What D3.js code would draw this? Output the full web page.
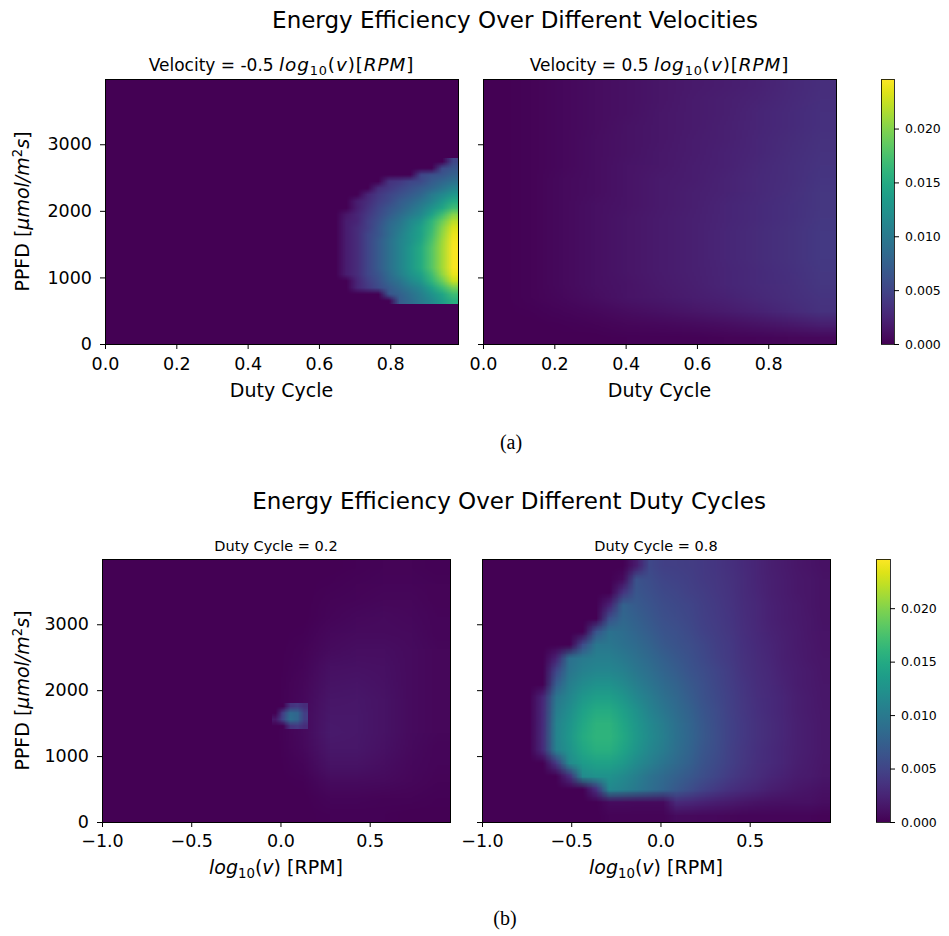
<!DOCTYPE html>
<html>
<head>
<meta charset="utf-8">
<script src="https://cdn.jsdelivr.net/npm/d3@7/dist/d3.min.js"></script>
<style>
  body { margin: 0; background: #fff; }
  svg { display: block; }
  text { font-family: "DejaVu Sans", sans-serif; fill: #000; }
</style>
</head>
<body>
<svg id="chart" width="949" height="936"></svg>
<script>
// ---------------------------------------------------------------
// Energy efficiency maps. Grid values are stored in units of 1e-4;
// every grid is listed from the highest PPFD row down to the lowest.
// ---------------------------------------------------------------
const UNIT = 1e-4;
const EFF_MAX = 0.0246;

const dutyDomain = [0, 0.99];
const logvDomain = [-1, 0.95];
const ppfdDomainTop = [0, 3980];
const ppfdDomainBottom = [0, 3990];

const dutyTicks = [0, 0.2, 0.4, 0.6, 0.8];
const logvTicks = [-1, -0.5, 0, 0.5];
const ppfdTicks = [0, 1000, 2000, 3000];
const effTicks = [0, 0.005, 0.010, 0.015, 0.020];

// Velocity = -0.5: everything outside the block below is zero
const velLowBase = [[0]];
const velLowBlockDuty = [0.63, 0.99];
const velLowBlockPpfd = [600, 2800];
const velLowBlock = [
  [0,0,0,0,0,0,0,0,0,0,0,50],
  [0,0,0,0,0,0,0,0,0,0,55,65],
  [0,0,0,0,0,0,0,0,50,60,65,75],
  [0,0,0,0,0,35,40,50,55,70,80,90],
  [0,0,0,0,30,40,50,60,70,80,95,110],
  [0,0,0,25,40,50,60,70,80,100,115,130],
  [0,0,20,30,45,55,70,80,95,110,130,150],
  [0,0,20,35,50,65,75,90,105,125,145,170],
  [0,15,25,40,55,70,85,100,115,140,170,200],
  [0,20,25,45,60,80,95,115,130,160,190,220],
  [0,20,30,45,65,85,100,120,140,165,200,232],
  [0,20,30,50,65,85,105,125,140,170,205,238],
  [0,20,30,50,70,90,110,125,145,175,210,242],
  [0,20,30,50,70,90,110,130,150,180,212,244],
  [0,20,30,50,70,90,110,130,150,180,212,244],
  [0,20,30,50,70,90,110,130,150,180,212,244],
  [0,20,30,50,70,90,110,130,150,180,212,244],
  [0,20,30,50,65,85,105,125,140,170,205,238],
  [0,0,25,45,60,80,95,115,130,160,190,225],
  [0,0,25,40,55,70,85,100,115,140,168,195],
  [0,0,0,0,0,65,75,90,105,125,145,170],
  [0,0,0,0,0,0,70,85,100,115,135,155]
];

// Velocity = 0.5
const velHigh = [
  [0,2,5,8,11,14,17,20,23,27,32],
  [0,2,5,8,11,14,18,21,24,28,33],
  [0,2,5,8,11,15,18,21,25,29,34],
  [0,2,5,8,12,15,18,22,25,29,34],
  [0,2,5,9,12,15,19,22,26,30,35],
  [0,2,5,9,12,16,19,23,26,31,36],
  [0,2,5,9,13,16,20,23,27,32,37],
  [0,2,6,9,13,17,20,24,28,32,38],
  [0,2,6,9,13,17,21,24,28,33,39],
  [0,2,6,10,13,17,21,25,29,34,39],
  [0,2,6,10,14,18,22,25,29,34,40],
  [0,2,6,10,14,18,22,26,30,35,41],
  [0,2,6,10,14,18,22,26,30,35,41],
  [0,2,6,10,14,18,22,26,30,35,41],
  [0,2,6,10,14,18,22,25,29,34,40],
  [0,2,6,10,13,17,21,25,29,33,39],
  [0,2,5,9,13,16,20,23,27,32,37],
  [0,1,3,5,8,11,14,18,23,28,35],
  [0,0,1,2,4,5,7,9,12,16,21],
  [0,0,0,0,1,1,1,2,3,4,5]
];

// Duty cycle = 0.2: broad field plus a finer local peak
const duty02 = [
  [0,0,0,0,0,0,0,0,0,1,2,2,1],
  [0,0,0,0,0,0,0,0,1,2,3,3,2],
  [0,0,0,0,0,0,0,0,2,3,4,4,2],
  [0,0,0,0,0,0,0,0,3,5,6,5,3],
  [0,0,0,0,0,0,0,1,5,7,7,6,3],
  [0,0,0,0,0,0,0,2,7,9,9,7,4],
  [0,0,0,0,0,0,0,3,10,11,10,7,4],
  [0,0,0,0,0,0,0,4,12,13,11,7,4],
  [0,0,0,0,0,0,0,5,14,15,12,7,4],
  [0,0,0,0,0,0,0,6,16,16,12,7,4],
  [0,0,0,0,0,0,0,6,17,16,12,7,4],
  [0,0,0,0,0,0,0,5,15,15,11,6,3],
  [0,0,0,0,0,0,0,3,12,12,9,5,3],
  [0,0,0,0,0,0,0,1,7,7,6,4,2],
  [0,0,0,0,0,0,0,0,3,3,2,2,1],
  [0,0,0,0,0,0,0,0,1,1,1,0,0]
];
const duty02PeakLogv = [-0.05, 0.15];
const duty02PeakPpfd = [1400, 1800];
const duty02Peak = [
  [0,0,35,40,30],
  [0,45,85,80,45],
  [15,50,90,80,45],
  [0,0,35,40,30]
];

// Duty cycle = 0.8
const duty08 = [
  [0,0,0,0,0,0,0,0,0,0,0,18,53,47,46,44,41,38,34,29,25,21,18,15,13,11],
  [0,0,0,0,0,0,0,0,0,0,7,62,57,50,49,46,42,39,35,30,25,22,19,16,14,12],
  [0,0,0,0,0,0,0,0,0,0,36,66,60,54,51,48,44,40,36,30,26,22,19,16,14,12],
  [0,0,0,0,0,0,0,0,0,24,77,70,64,57,54,50,46,42,37,31,27,23,20,17,14,12],
  [0,0,0,0,0,0,0,0,0,60,81,74,67,60,56,52,47,43,38,32,27,23,20,17,15,12],
  [0,0,0,0,0,0,0,0,64,92,87,79,72,64,60,55,49,44,39,33,28,24,21,18,15,13],
  [0,0,0,0,0,0,0,56,98,98,92,85,77,68,63,58,52,46,41,34,29,25,22,18,16,13],
  [0,0,0,0,0,23,90,100,105,105,99,91,83,74,67,61,54,48,42,35,30,26,22,19,16,14],
  [0,0,0,0,0,50,96,107,113,113,107,98,89,79,72,64,57,50,44,36,31,27,23,20,17,14],
  [0,0,0,0,0,71,104,118,125,125,117,105,96,85,77,68,60,52,45,38,32,28,24,20,17,15],
  [0,0,0,0,26,96,113,130,138,138,129,115,103,91,82,72,62,54,47,39,33,29,25,21,18,15],
  [0,0,0,0,28,102,121,140,150,150,139,124,110,98,86,76,65,56,48,40,34,29,25,21,18,16],
  [0,0,0,0,29,108,127,147,158,158,146,130,116,103,90,79,67,57,49,41,35,30,26,22,19,16],
  [0,0,0,0,30,110,130,150,160,160,148,132,118,105,92,80,68,58,49,41,35,30,26,22,19,16],
  [0,0,0,0,29,107,126,146,155,155,144,128,114,102,89,78,66,57,48,40,34,29,25,22,19,16],
  [0,0,0,0,0,40,117,134,141,141,132,118,106,95,84,74,63,55,47,39,33,29,25,21,18,15],
  [0,0,0,0,0,0,31,117,124,124,117,105,94,84,75,67,58,50,43,36,31,26,23,19,17,14],
  [0,0,0,0,0,0,0,0,34,115,109,99,89,79,68,58,49,41,34,29,25,21,18,15,13,11],
  [0,0,0,0,0,0,0,0,0,7,7,6,6,6,28,26,23,20,17,14,12,11,10,10,10,8],
  [0,0,0,0,0,0,0,0,0,2,2,2,2,2,7,6,5,5,4,3,3,3,3,3,3,2]
];

// ---------------------------------------------------------------
const svg = d3.select("#chart");
const color = d3.scaleSequential(d3.interpolateViridis).domain([0, EFF_MAX]);

// paint a value grid into the plot area covering [xr] x [yr]
function drawGrid(g, values, xr, yr, x, y) {
  const rows = values.length, cols = values[0].length;
  const small = document.createElement("canvas");
  small.width = cols; small.height = rows;
  const sctx = small.getContext("2d");
  const img = sctx.createImageData(cols, rows);
  values.forEach((row, r) => row.forEach((v, c) => {
    const rgb = d3.rgb(color(v * UNIT));
    const k = 4 * (r * cols + c);
    img.data[k] = rgb.r; img.data[k + 1] = rgb.g; img.data[k + 2] = rgb.b; img.data[k + 3] = 255;
  }));
  sctx.putImageData(img, 0, 0);
  const left = x(xr[0]), right = x(xr[1]);
  const top = y(yr[1]), bottom = y(yr[0]);
  const w = Math.max(1, Math.round(right - left));
  const h = Math.max(1, Math.round(bottom - top));
  const big = document.createElement("canvas");
  big.width = w; big.height = h;
  const bctx = big.getContext("2d");
  bctx.imageSmoothingEnabled = true;
  bctx.imageSmoothingQuality = "low";
  bctx.drawImage(small, 0, 0, w, h);
  g.append("image")
    .attr("x", Math.round(left)).attr("y", Math.round(top))
    .attr("width", w).attr("height", h)
    .attr("preserveAspectRatio", "none")
    .attr("href", big.toDataURL());
}

// rich text: parts = [{t, it, sub, sup, math}]
function richText(sel, parts, size, mathScale, mathSpacing) {
  const ms = mathScale || 1;
  parts.forEach(p => {
    const ts = sel.append("tspan").text(p.t);
    const base = p.math ? size * ms : size;
    if (p.math) ts.attr("font-size", base).attr("letter-spacing", mathSpacing || 0);
    if (p.it) ts.attr("font-style", "italic");
    if (p.sub) ts.attr("font-size", base * 0.7).attr("dy", base * 0.22);
    if (p.sup) ts.attr("font-size", base * 0.7).attr("dy", -base * 0.38);
    if (p.back) ts.attr("dy", p.back * base);
  });
}

function styleAxis(g, fs) {
  g.select(".domain").remove();
  g.selectAll(".tick line").attr("stroke", "#000").attr("stroke-width", 1);
  g.selectAll(".tick text").attr("font-size", fs).attr("fill", "#000")
    .attr("font-family", "DejaVu Sans, sans-serif");
}

function panel(opt) {
  const x = d3.scaleLinear().domain(opt.xDomain).range([opt.left, opt.right]);
  const y = d3.scaleLinear().domain(opt.yDomain).range([opt.bottom, opt.top]);
  const g = svg.append("g");
  opt.layers.forEach(l => drawGrid(g, l.values, l.x, l.y, x, y));

  const xa = svg.append("g").attr("transform", `translate(0,${opt.bottom})`)
    .call(d3.axisBottom(x).tickValues(opt.xTicks).tickFormat(d3.format(".1f"))
      .tickSizeOuter(0).tickSize(5).tickPadding(opt.xPad));
  styleAxis(xa, 17.5);

  const ya = svg.append("g").attr("transform", `translate(${opt.left},0)`)
    .call(d3.axisLeft(y).tickValues(ppfdTicks).tickFormat(opt.yLabels ? d3.format("d") : "")
      .tickSizeOuter(0).tickSize(5).tickPadding(8));
  styleAxis(ya, 17.5);

  svg.append("rect")
    .attr("x", opt.left).attr("y", opt.top)
    .attr("width", opt.right - opt.left).attr("height", opt.bottom - opt.top)
    .attr("fill", "none").attr("stroke", "#000").attr("stroke-width", 1)
    .attr("shape-rendering", "crispEdges");

  const t = svg.append("text").attr("x", (opt.left + opt.right) / 2).attr("y", opt.top - 8)
    .attr("text-anchor", "middle").attr("font-size", opt.titleSize);
  richText(t, opt.title, opt.titleSize, 1.08, 0.9);

  const xl = svg.append("text").attr("x", (opt.left + opt.right) / 2).attr("y", opt.xLabelY)
    .attr("text-anchor", "middle").attr("font-size", 19);
  richText(xl, opt.xLabel, 19);

  if (opt.yLabels) {
    const cy = (opt.top + opt.bottom) / 2;
    const yl = svg.append("text").attr("x", 29).attr("y", cy)
      .attr("transform", `rotate(-90,29,${cy})`)
      .attr("text-anchor", "middle").attr("font-size", 19);
    richText(yl, [
      { t: "PPFD [" },
      { t: "\u03bcmol/m", it: true },
      { t: "2", sup: true },
      { t: "s", it: true, back: 0.38 },
      { t: "]" }
    ], 19);
  }
}

function colorbar(left, right, top, bottom) {
  const id = "cb" + top;
  const grad = svg.append("defs").append("linearGradient").attr("id", id)
    .attr("x1", 0).attr("y1", 1).attr("x2", 0).attr("y2", 0);
  d3.range(0, 1.0001, 0.05).forEach(t => {
    grad.append("stop").attr("offset", t).attr("stop-color", color(t * EFF_MAX));
  });
  svg.append("rect").attr("x", left).attr("y", top)
    .attr("width", right - left).attr("height", bottom - top)
    .attr("fill", `url(#${id})`).attr("stroke", "#000").attr("stroke-width", 0.8)
    .attr("shape-rendering", "crispEdges");
  const s = d3.scaleLinear().domain([0, EFF_MAX]).range([bottom, top]);
  const a = svg.append("g").attr("transform", `translate(${right},0)`)
    .call(d3.axisRight(s).tickValues(effTicks).tickFormat(d3.format(".3f"))
      .tickSizeOuter(0).tickSize(5).tickPadding(6));
  styleAxis(a, 12.5);
}

const velTitle = v => [
  { t: `Velocity = ${v} ` },
  { t: "log", it: true, math: true },
  { t: "10", sub: true, math: true },
  { t: "(", back: -0.22, math: true },
  { t: "v", it: true, math: true },
  { t: ")[", math: true },
  { t: "RPM", it: true, math: true },
  { t: "]", math: true }
];
const logvLabel = [
  { t: "log", it: true },
  { t: "10", sub: true },
  { t: "(", back: -0.22 },
  { t: "v", it: true },
  { t: ") [RPM]" }
];

// ---------------- (a) ----------------
svg.append("text").attr("x", 515).attr("y", 28).attr("text-anchor", "middle")
  .attr("font-size", 23).text("Energy Efficiency Over Different Velocities");

panel({
  left: 105, right: 458, top: 79, bottom: 344,
  xDomain: dutyDomain, yDomain: ppfdDomainTop, xTicks: dutyTicks, xPad: 9,
  layers: [
    { values: velLowBase, x: dutyDomain, y: ppfdDomainTop },
    { values: velLowBlock, x: velLowBlockDuty, y: velLowBlockPpfd }
  ],
  title: velTitle("-0.5"), titleSize: 17, xLabel: [{ t: "Duty Cycle" }], xLabelY: 397, yLabels: true
});
panel({
  left: 483, right: 836, top: 79, bottom: 344,
  xDomain: dutyDomain, yDomain: ppfdDomainTop, xTicks: dutyTicks, xPad: 9,
  layers: [{ values: velHigh, x: dutyDomain, y: ppfdDomainTop }],
  title: velTitle("0.5"), titleSize: 17, xLabel: [{ t: "Duty Cycle" }], xLabelY: 397, yLabels: false
});
colorbar(881, 894, 79, 344);

svg.append("text").attr("x", 511).attr("y", 449).attr("text-anchor", "middle")
  .attr("font-size", 20).style("font-family", "'Liberation Serif', serif").text("(a)");

// ---------------- (b) ----------------
svg.append("text").attr("x", 509).attr("y", 509).attr("text-anchor", "middle")
  .attr("font-size", 23).text("Energy Efficiency Over Different Duty Cycles");

panel({
  left: 102, right: 450, top: 559, bottom: 822,
  xDomain: logvDomain, yDomain: ppfdDomainBottom, xTicks: logvTicks, xPad: 8,
  layers: [
    { values: duty02, x: logvDomain, y: ppfdDomainBottom },
    { values: duty02Peak, x: duty02PeakLogv, y: duty02PeakPpfd }
  ],
  title: [{ t: "Duty Cycle = 0.2" }], titleSize: 14.5, xLabel: logvLabel, xLabelY: 874, yLabels: true
});
panel({
  left: 482, right: 830, top: 559, bottom: 822,
  xDomain: logvDomain, yDomain: ppfdDomainBottom, xTicks: logvTicks, xPad: 8,
  layers: [{ values: duty08, x: logvDomain, y: ppfdDomainBottom }],
  title: [{ t: "Duty Cycle = 0.8" }], titleSize: 14.5, xLabel: logvLabel, xLabelY: 874, yLabels: false
});
colorbar(876, 890, 559, 822);

svg.append("text").attr("x", 505).attr("y", 925).attr("text-anchor", "middle")
  .attr("font-size", 20).style("font-family", "'Liberation Serif', serif").text("(b)");
</script>
</body>
</html>
